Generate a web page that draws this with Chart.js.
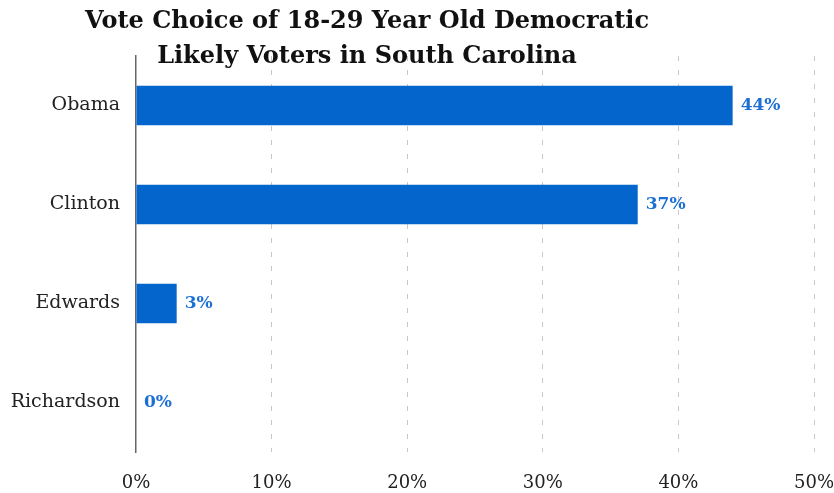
<!DOCTYPE html>
<html>
<head>
<meta charset="utf-8">
<script src="https://cdn.jsdelivr.net/npm/chart.js@4.4.0/dist/chart.umd.min.js"></script>
<style>
  html, body { margin: 0; padding: 0; background: #fff; }
  #wrap { width: 834px; height: 493px; }
</style>
</head>
<body>
<div id="wrap"><canvas id="vote_chart" width="834" height="493"></canvas></div>
<script>
const candidates = ["Obama", "Clinton", "Edwards", "Richardson"];
const voteShare = [44, 37, 3, 0];
const titleLines = ["Vote Choice of 18-29 Year Old Democratic", "Likely Voters in South Carolina"];

const serif = "'DejaVu Serif', serif";

// title sits over the plot, so draw it by hand
const titlePlugin = {
    id: "titleText",
    afterDraw(chart) {
        const ctx = chart.ctx;
        ctx.save();
        ctx.fillStyle = "#111";
        ctx.font = "bold 24px " + serif;
        ctx.textAlign = "center";
        ctx.textBaseline = "middle";
        ctx.fillText(titleLines[0], 367, 22);
        ctx.fillText(titleLines[1], 367, 57);
        ctx.restore();
    }
};

const valueLabels = {
    id: "valueLabels",
    afterDatasetsDraw(chart) {
        const ctx = chart.ctx;
        const meta = chart.getDatasetMeta(0);
        ctx.save();
        ctx.fillStyle = "#1C6FD3";
        ctx.font = "bold 17px " + serif;
        ctx.textAlign = "left";
        ctx.textBaseline = "middle";
        meta.data.forEach(function(bar, i) {
            ctx.fillText(voteShare[i] + "%", bar.x + 8, bar.y);
        });
        ctx.restore();
    }
};

new Chart(document.getElementById("vote_chart"), {
    type: "bar",
    data: {
        labels: candidates,
        datasets: [{
            data: voteShare,
            backgroundColor: "#0466CC",
            barPercentage: 0.4,
            categoryPercentage: 1.0
        }]
    },
    options: {
        indexAxis: "y",
        responsive: false,
        animation: false,
        layout: { padding: { top: 56, right: 0, left: 0, bottom: 0 } },
        plugins: {
            legend: { display: false },
            title: { display: false },
            tooltip: { enabled: false }
        },
        scales: {
            x: {
                min: 0,
                max: 50,
                ticks: {
                    stepSize: 10,
                    color: "#222",
                    font: { family: serif, size: 18 },
                    padding: 21,
                    maxRotation: 0,
                    callback: function(v) { return v + "%"; }
                },
                grid: {
                    color: function(c) { return c.index === 0 ? "rgba(0,0,0,0)" : "#C8C8C8"; },
                    drawTicks: false,
                    tickBorderDash: [5, 9]
                },
                border: { display: false, dash: [5, 9] },
                afterFit: function(scale) {
                    scale.height = 41;
                    scale.paddingRight = 20;
                }
            },
            y: {
                ticks: {
                    color: "#222",
                    font: { family: serif, size: 19 },
                    padding: 16
                },
                grid: { display: false, drawTicks: false },
                border: { display: true, color: "#666", width: 1.5 },
                afterFit: function(scale) { scale.width = 136; }
            }
        }
    },
    plugins: [titlePlugin, valueLabels]
});
</script>
</body>
</html>
